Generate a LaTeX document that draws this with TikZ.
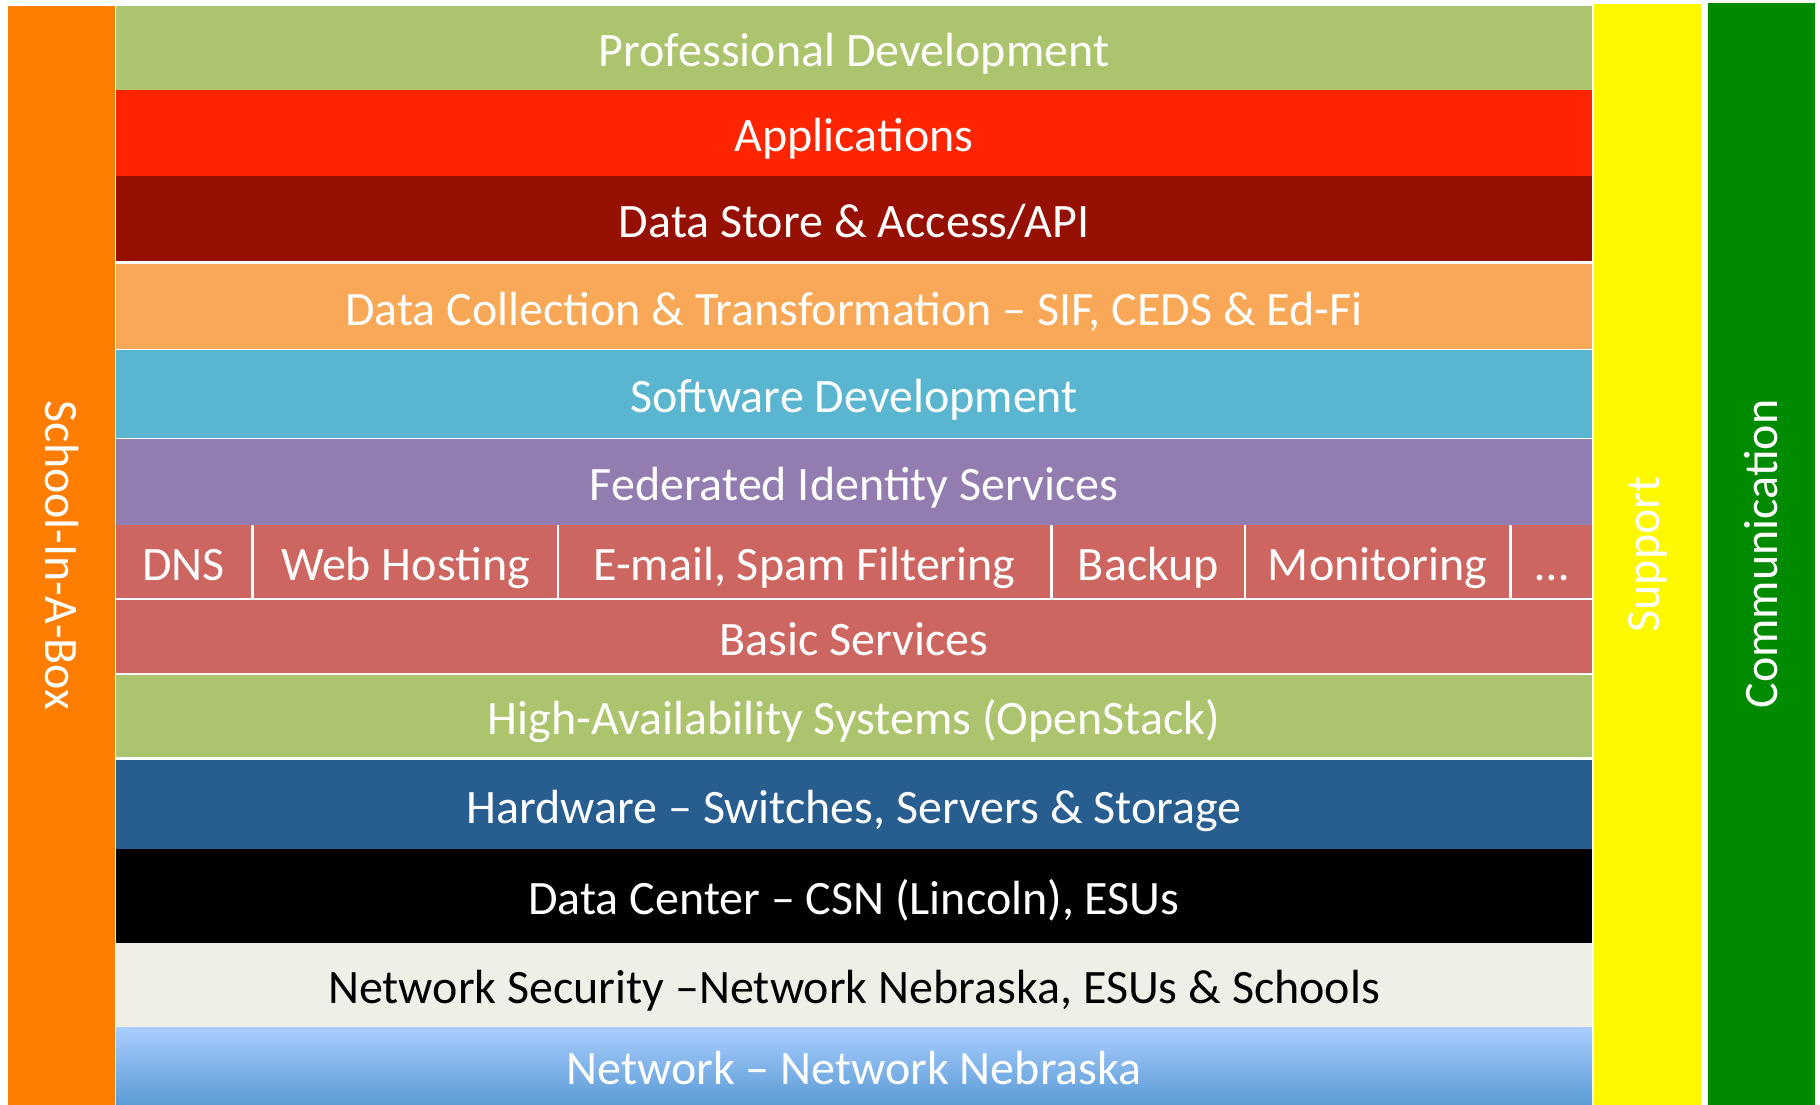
\documentclass[tikz,border=0pt]{standalone}
\usepackage{fontspec}
\setmainfont{Carlito}
\definecolor{pdgreen}{RGB}{171,196,109}
\definecolor{appred}{RGB}{255,37,0}
\definecolor{storered}{RGB}{149,16,0}
\definecolor{collorange}{RGB}{249,168,87}
\definecolor{softblue}{RGB}{90,182,208}
\definecolor{fedpurple}{RGB}{147,124,176}
\definecolor{servred}{RGB}{205,102,96}
\definecolor{hwblue}{RGB}{40,93,143}
\definecolor{secgrey}{RGB}{240,239,231}
\definecolor{netlight}{RGB}{169,205,255}
\definecolor{netdark}{RGB}{91,155,213}
\definecolor{boxorange}{RGB}{255,125,0}
\definecolor{supyellow}{RGB}{255,249,0}
\definecolor{comgreen}{RGB}{0,138,0}

\tikzset{
  layer/.style={rectangle, inner sep=0pt, text=white, text height=37pt, text depth=0pt, minimum width=1476pt},
  cell/.style={rectangle, inner sep=0pt, text=white, text height=37pt, text depth=0pt, fill=servred, minimum height=73pt},
  sidebar/.style={rectangle, inner sep=0pt, text=white, minimum height=107pt}
}

\begin{document}
\begin{tikzpicture}[x=1pt, y=-1pt, font=\fontsize{48}{58}\selectfont]

  \useasboundingbox (0,0) rectangle (1820,1105);

  \node[layer, fill=pdgreen, minimum height=84pt] at (854,48) (profdev) {Professional Development};
  \node[layer, fill=appred, minimum height=86pt] at (854,133) (apps) {Applications};
  \node[layer, fill=storered, minimum height=85pt] at (854,218.5) (datastore) {Data Store \& Access/API};
  \node[layer, fill=collorange, minimum height=85pt] at (854,306.5) (datacoll) {Data Collection \& Transformation – SIF, CEDS \& Ed-Fi};
  \node[layer, fill=softblue, minimum height=88pt] at (854,394) (softdev) {Software Development};
  \node[layer, fill=fedpurple, minimum height=86pt] at (854,482) (fedid) {Federated Identity Services};

  \node[cell, minimum width=135pt] at (183.5,561.5) (dns) {DNS};
  \node[cell, minimum width=303pt] at (405.5,561.5) (webhost) {Web Hosting};
  \node[cell, minimum width=491pt] at (804.5,561.5) (email) {E-mail, Spam Filtering};
  \node[cell, minimum width=191pt] at (1148.5,561.5) (backup) {Backup};
  \node[cell, minimum width=263pt] at (1377.5,561.5) (monitor) {Monitoring};
  \node[cell, minimum width=80pt] at (1552,561.5) (more) {…};

  \node[layer, fill=servred, minimum height=73pt] at (854,636.5) (basic) {Basic Services};
  \node[layer, fill=pdgreen, minimum height=82pt] at (854,716) (highavail) {High-Availability Systems (OpenStack)};
  \node[layer, fill=hwblue, minimum height=89pt] at (854,804.5) (hardware) {Hardware – Switches, Servers \& Storage};
  \node[layer, fill=black, minimum height=94pt] at (854,896) (datacenter) {Data Center – CSN (Lincoln), ESUs};
  \node[layer, fill=secgrey, text=black, minimum height=84pt] at (854,985) (netsec) {Network Security –Network Nebraska, ESUs \& Schools};
  \node[layer, top color=netlight, bottom color=netdark, minimum height=78pt] at (854,1066) (network) {Network – Network Nebraska};

  \node[sidebar, fill=boxorange, rotate=-90, minimum width=1099pt] at (61.5,555.5) (schoolbox) {School-In-A-Box};
  \node[sidebar, fill=supyellow, rotate=90, minimum width=1101pt] at (1647.5,554.5) (support) {Support};
  \node[sidebar, fill=comgreen, rotate=90, minimum width=1102pt] at (1761.5,554) (comm) {Communication};

\end{tikzpicture}
\end{document}
